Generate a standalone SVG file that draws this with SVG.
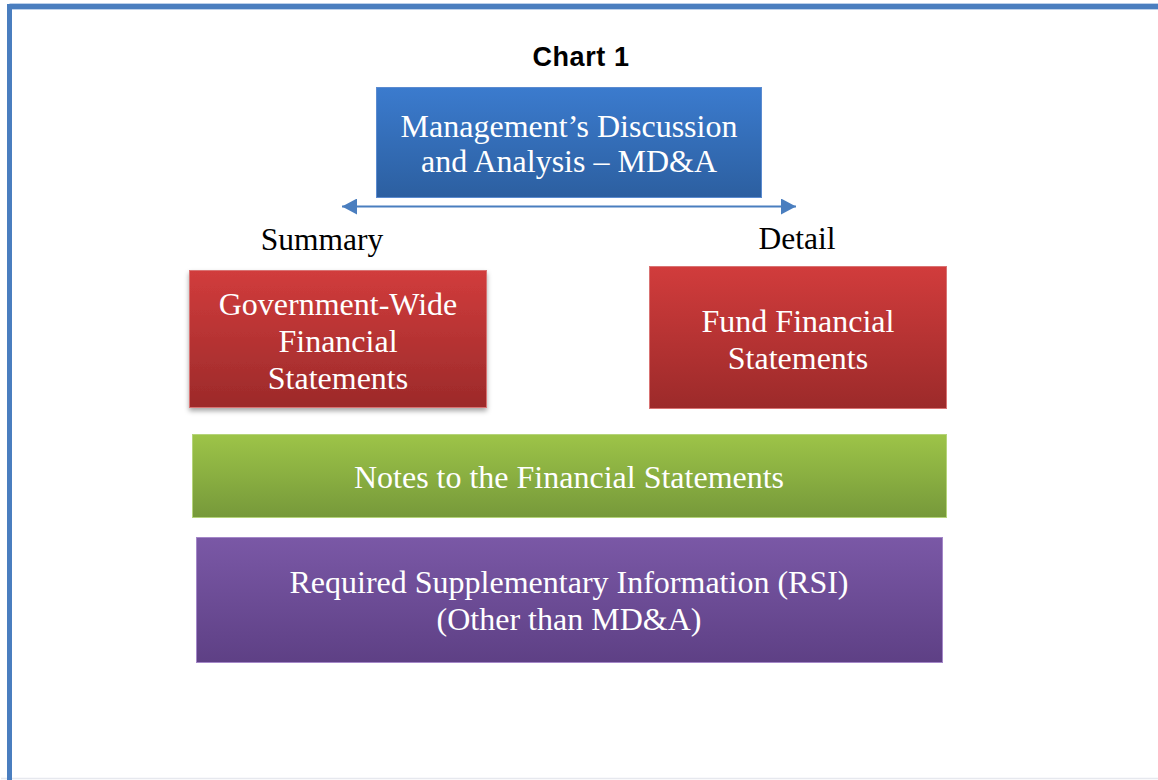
<svg xmlns="http://www.w3.org/2000/svg" width="1158" height="780" viewBox="0 0 1158 780">
  <defs>
    <linearGradient id="gBlue" x1="0" y1="0" x2="0" y2="1">
      <stop offset="0" stop-color="#3b7bce"/>
      <stop offset="1" stop-color="#2c5fa0"/>
    </linearGradient>
    <linearGradient id="gRed" x1="0" y1="0" x2="0" y2="1">
      <stop offset="0" stop-color="#d13c3c"/>
      <stop offset="1" stop-color="#9c2a2a"/>
    </linearGradient>
    <linearGradient id="gGreen" x1="0" y1="0" x2="0" y2="1">
      <stop offset="0" stop-color="#9dc448"/>
      <stop offset="1" stop-color="#76993a"/>
    </linearGradient>
    <linearGradient id="gPurple" x1="0" y1="0" x2="0" y2="1">
      <stop offset="0" stop-color="#7a58a6"/>
      <stop offset="1" stop-color="#5e4085"/>
    </linearGradient>
    <filter id="shadow" x="-5%" y="-5%" width="115%" height="125%">
      <feDropShadow dx="0" dy="3" stdDeviation="2.5" flood-color="#000" flood-opacity="0.35"/>
    </filter>
    <marker id="arrowHead" viewBox="0 0 15 16" refX="15" refY="8" markerUnits="userSpaceOnUse" markerWidth="15" markerHeight="16" orient="auto-start-reverse">
      <path d="M0,0 L15,8 L0,16 z" fill="#4a7ebf"/>
    </marker>
    <style>
      .box-text { font-family: "Liberation Serif", "Times New Roman", serif; font-size: 32px; fill: #ffffff; text-anchor: middle; }
      .label { font-family: "Liberation Serif", "Times New Roman", serif; font-size: 31.5px; fill: #000000; text-anchor: middle; }
      .title { font-family: "Liberation Sans", Arial, sans-serif; font-size: 27px; letter-spacing: 0.6px; font-weight: bold; fill: #000000; text-anchor: middle; }
    </style>
  </defs>

  <rect x="0" y="0" width="1158" height="780" fill="#ffffff"/>

  <!-- frame -->
  <line x1="1" y1="778.5" x2="1158" y2="778.5" stroke="#e6e8ee" stroke-width="1.5"/>
  <line x1="9.5" y1="6.5" x2="1158" y2="6.5" stroke="#bcd0ea" stroke-width="7"/>
  <line x1="9.5" y1="6.5" x2="1158" y2="6.5" stroke="#4a7ebf" stroke-width="5"/>
  <line x1="9.5" y1="4" x2="9.5" y2="780" stroke="#4a7ebf" stroke-width="5"/>

  <text class="title" x="581" y="66">Chart 1</text>

  <!-- connectors -->
  <g id="connectors">
    <line x1="342" y1="206.5" x2="796" y2="206.5" stroke="#4a7ebf" stroke-width="2" marker-start="url(#arrowHead)" marker-end="url(#arrowHead)"/>
  </g>

  <g id="mdna">
    <rect x="376.5" y="87.5" width="385" height="110" fill="url(#gBlue)" stroke="#5b8bd0" stroke-width="1"/>
    <text class="box-text" x="569" y="137">Management’s Discussion</text>
    <text class="box-text" x="569" y="172">and Analysis – MD&amp;A</text>
  </g>

  <g id="summary-label">
    <text class="label" x="322" y="250">Summary</text>
  </g>
  <g id="detail-label">
    <text class="label" x="797" y="249">Detail</text>
  </g>

  <g id="gov-wide">
    <rect x="189.5" y="270.5" width="297" height="137" fill="url(#gRed)" stroke="#d97373" stroke-width="1" filter="url(#shadow)"/>
    <text class="box-text" x="338" y="315">Government-Wide</text>
    <text class="box-text" x="338" y="352">Financial</text>
    <text class="box-text" x="338" y="389">Statements</text>
  </g>

  <g id="fund">
    <rect x="649.5" y="266.5" width="297" height="142" fill="url(#gRed)" stroke="#d97373" stroke-width="1"/>
    <text class="box-text" x="798" y="332">Fund Financial</text>
    <text class="box-text" x="798" y="369">Statements</text>
  </g>

  <g id="notes">
    <rect x="192.5" y="434.5" width="754" height="83" fill="url(#gGreen)" stroke="#b5d47a" stroke-width="1"/>
    <text class="box-text" x="569" y="488">Notes to the Financial Statements</text>
  </g>

  <g id="rsi">
    <rect x="196.5" y="537.5" width="746" height="125" fill="url(#gPurple)" stroke="#a487c8" stroke-width="1"/>
    <text class="box-text" x="569" y="593">Required Supplementary Information (RSI)</text>
    <text class="box-text" x="569" y="630">(Other than MD&amp;A)</text>
  </g>
</svg>
